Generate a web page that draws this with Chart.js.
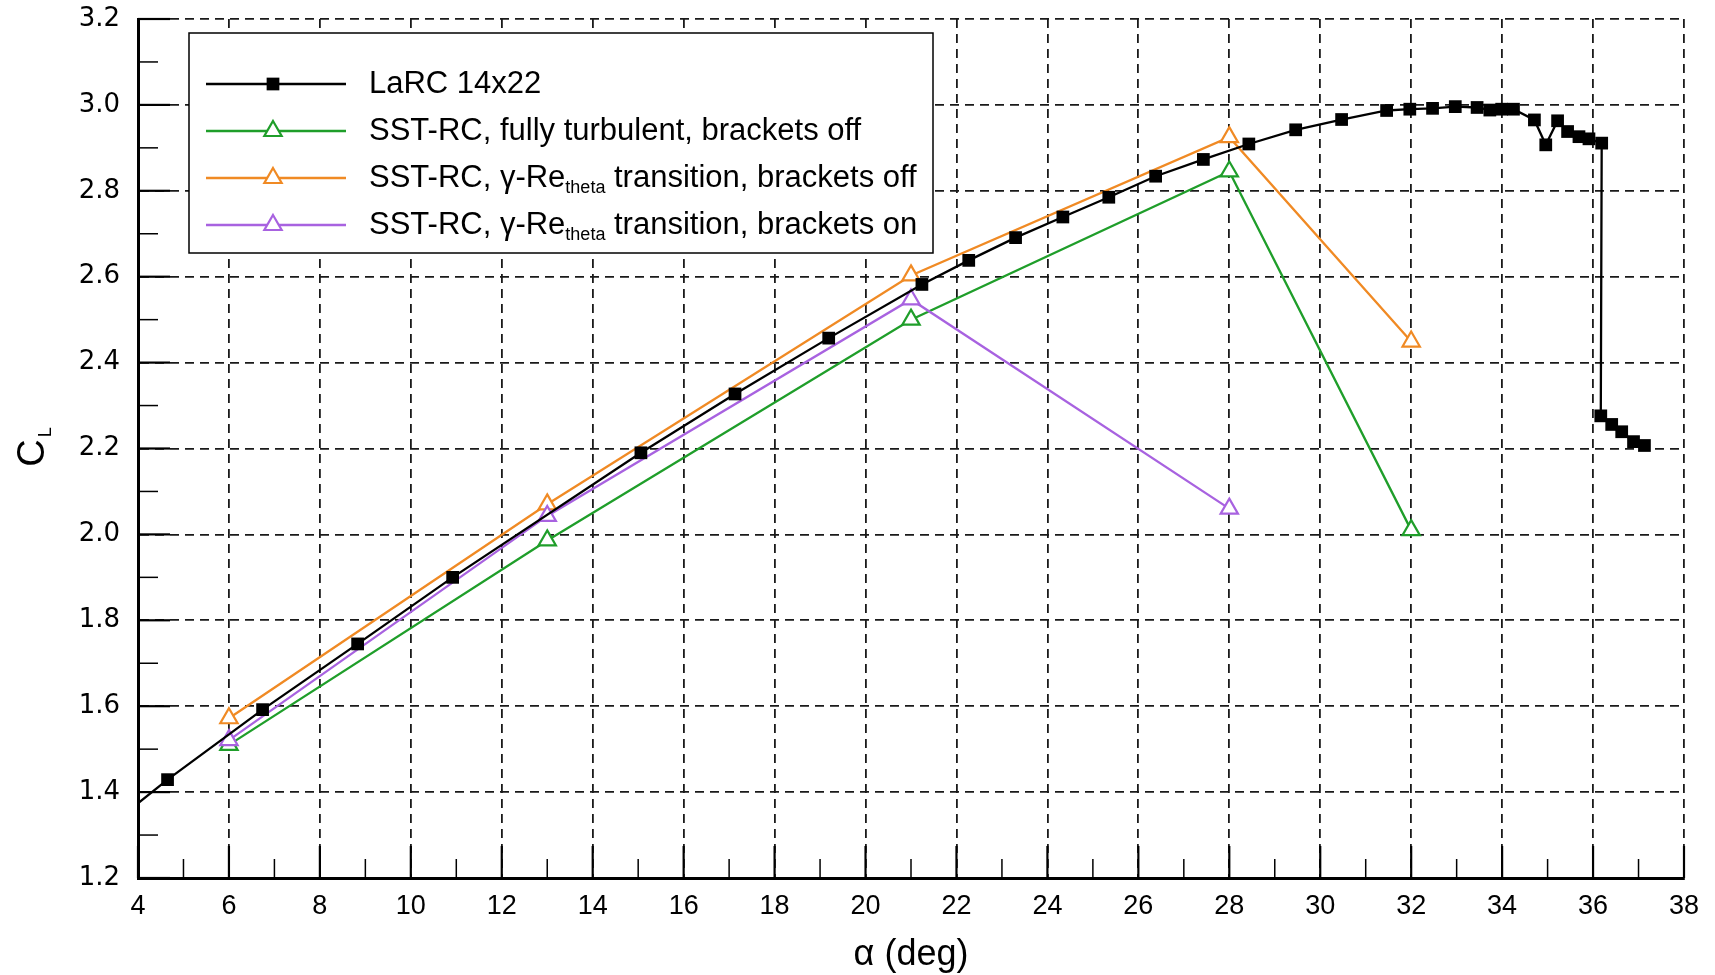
<!DOCTYPE html>
<html>
<head>
<meta charset="utf-8">
<title>CL vs alpha</title>
<script src="https://cdn.jsdelivr.net/npm/chart.js@4.4.1/dist/chart.umd.min.js"></script>
<style>
    html, body { margin: 0; padding: 0; background: #fff; }
    #wrap { width: 1715px; height: 975px; }
</style>
</head>
<body>
<div id="wrap"><canvas id="clChart" width="1715" height="975"></canvas></div>
<script>
// Data
// LaRC 14x22 experiment (first point lies left of the axis, only its line shows)
const larcAlpha = [2.6, 4.65, 6.74, 8.83, 10.92, 15.06, 17.13, 19.19, 21.24, 22.27, 23.30, 24.34, 25.35, 26.38,
    27.43, 28.43, 29.46, 30.47, 31.46, 31.97, 32.47, 32.97, 33.45, 33.73, 33.99, 34.25, 34.71, 34.96,
    35.22, 35.44, 35.69, 35.91, 36.19, 36.17, 36.41, 36.63, 36.89, 37.13];
const larcCL = [1.255, 1.429, 1.592, 1.745, 1.900, 2.190, 2.327, 2.457, 2.582, 2.638, 2.691, 2.739, 2.785, 2.834,
    2.873, 2.909, 2.942, 2.966, 2.987, 2.990, 2.992, 2.996, 2.994, 2.988, 2.990, 2.990, 2.965, 2.907,
    2.963, 2.938, 2.926, 2.921, 2.911, 2.276, 2.256, 2.239, 2.216, 2.207];

// SST-RC runs
const cfdAlpha = [6, 13, 21, 28, 32];
const fullyTurbCL = [1.510, 1.986, 2.500, 2.845, 2.010];
const transOffCL = [1.572, 2.070, 2.603, 2.925, 2.449];
const transOnAlpha = [6, 13, 21, 28];
const transOnCL = [1.521, 2.043, 2.547, 2.060];

// Labels and axis ranges
const seriesLabels = [
    'LaRC 14x22',
    'SST-RC, fully turbulent, brackets off',
    'SST-RC, γ-Re_{theta} transition, brackets off',
    'SST-RC, γ-Re_{theta} transition, brackets on'
];
const seriesColors = ['#000000', '#1f9e2a', '#f08a24', '#a862e0'];
const xRange = [4, 38];
const yRange = [1.2, 3.2];
const xStep = 2;
const yStep = 0.2;

function toPoints(xs, ys) {
    return xs.map((x, i) => ({ x: x, y: ys[i] }));
}

// Draw a marker like Chart.js does for rect / triangle
function drawMarker(ctx, style, x, y, r, color) {
    ctx.save();
    ctx.beginPath();
    if (style === 'rect') {
        const s = Math.SQRT1_2 * r;
        ctx.rect(x - s, y - s, 2 * s, 2 * s);
        ctx.fillStyle = color;
        ctx.fill();
    } else {
        ctx.moveTo(x, y - r);
        ctx.lineTo(x + 0.866 * r, y + 0.5 * r);
        ctx.lineTo(x - 0.866 * r, y + 0.5 * r);
        ctx.closePath();
        ctx.fillStyle = '#fff';
        ctx.fill();
        ctx.lineWidth = 2.2;
        ctx.strokeStyle = color;
        ctx.stroke();
    }
    ctx.restore();
}

// Text with _{sub} parts
function drawRichText(ctx, text, x, y, size) {
    const parts = text.split(/_\{(.*?)\}/);
    let cx = x;
    parts.forEach((p, i) => {
        const isSub = i % 2 === 1;
        ctx.font = (isSub ? Math.round(size * 0.58) : size) + 'px "Liberation Sans", Arial, sans-serif';
        ctx.fillText(p, cx, isSub ? y + size * 0.32 : y);
        cx += ctx.measureText(p).width;
    });
}

// Inward ticks, legend box and axis titles
const decorPlugin = {
    id: 'decor',
    afterDatasetsDraw(chart) {
        const ctx = chart.ctx;
        const xs = chart.scales.x, ys = chart.scales.y;
        const area = chart.chartArea;
        ctx.save();
        ctx.strokeStyle = '#000';
        for (let v = xRange[0]; v <= xRange[1]; v += 1) {
            const px = xs.getPixelForValue(v);
            const major = v % 2 === 0;
            ctx.lineWidth = major ? 2.2 : 1.5;
            ctx.beginPath();
            ctx.moveTo(px, area.bottom);
            ctx.lineTo(px, area.bottom - (major ? 32 : 19));
            ctx.stroke();
        }
        for (let i = 0; i <= 20; i++) {
            const v = yRange[0] + i * 0.1;
            const py = ys.getPixelForValue(v);
            const major = i % 2 === 0;
            ctx.lineWidth = major ? 2.2 : 1.5;
            ctx.beginPath();
            ctx.moveTo(area.left, py);
            ctx.lineTo(area.left + (major ? 32 : 20), py);
            ctx.stroke();
        }
        ctx.restore();
    },
    afterDraw(chart) {
        const ctx = chart.ctx;
        const styles = ['rect', 'triangle', 'triangle', 'triangle'];

        // legend box
        ctx.save();
        ctx.fillStyle = '#fff';
        ctx.fillRect(189, 33, 744, 220);
        ctx.lineWidth = 1.5;
        ctx.strokeStyle = '#000';
        ctx.strokeRect(189, 33, 744, 220);
        seriesLabels.forEach((label, i) => {
            const y = 84 + i * 47;
            ctx.lineWidth = 2.4;
            ctx.strokeStyle = seriesColors[i];
            ctx.beginPath();
            ctx.moveTo(206, y);
            ctx.lineTo(346, y);
            ctx.stroke();
            drawMarker(ctx, styles[i], 273, y, i === 0 ? 9 : 10, seriesColors[i]);
            ctx.fillStyle = '#000';
            ctx.textBaseline = 'middle';
            ctx.textAlign = 'left';
            drawRichText(ctx, label, 369, y, 31);
        });
        ctx.restore();

        // axis titles
        ctx.save();
        ctx.fillStyle = '#000';
        ctx.textBaseline = 'middle';
        ctx.textAlign = 'center';
        ctx.font = '36px "Liberation Sans", Arial, sans-serif';
        ctx.fillText('α (deg)', 911, 955);
        ctx.translate(34, 448);
        ctx.rotate(-Math.PI / 2);
        ctx.textAlign = 'left';
        ctx.font = '38px "Liberation Sans", Arial, sans-serif';
        const cw = ctx.measureText('C').width;
        ctx.fillText('C', -cw / 2 - 5, 0);
        ctx.font = '18px "Liberation Sans", Arial, sans-serif';
        ctx.fillText('L', cw / 2 - 3, 12);
        ctx.restore();
    }
};

function initClChart() {
    const ctx = document.getElementById('clChart').getContext('2d');
    new Chart(ctx, {
        type: 'line',
        data: {
            datasets: [{
                label: seriesLabels[0],
                data: toPoints(larcAlpha, larcCL),
                borderColor: seriesColors[0],
                backgroundColor: seriesColors[0],
                borderWidth: 2.3,
                pointStyle: 'rect',
                pointRadius: 9,
                pointBorderWidth: 0,
                order: 0
            }, {
                label: seriesLabels[1],
                data: toPoints(cfdAlpha, fullyTurbCL),
                borderColor: seriesColors[1],
                pointBackgroundColor: '#fff',
                borderWidth: 2.3,
                pointStyle: 'triangle',
                pointRadius: 10,
                pointBorderWidth: 2.2,
                order: 3
            }, {
                label: seriesLabels[2],
                data: toPoints(cfdAlpha, transOffCL),
                borderColor: seriesColors[2],
                pointBackgroundColor: '#fff',
                borderWidth: 2.3,
                pointStyle: 'triangle',
                pointRadius: 10,
                pointBorderWidth: 2.2,
                order: 2
            }, {
                label: seriesLabels[3],
                data: toPoints(transOnAlpha, transOnCL),
                borderColor: seriesColors[3],
                pointBackgroundColor: '#fff',
                borderWidth: 2.3,
                pointStyle: 'triangle',
                pointRadius: 10,
                pointBorderWidth: 2.2,
                order: 1
            }]
        },
        options: {
            responsive: false,
            animation: false,
            tension: 0,
            layout: { padding: { left: 0, right: 31, top: 19, bottom: 0 } },
            plugins: {
                legend: { display: false },
                tooltip: { enabled: false },
                title: { display: false }
            },
            scales: {
                x: {
                    type: 'linear',
                    min: xRange[0],
                    max: xRange[1],
                    afterFit: scale => {
                        scale.height = 97;
                        scale.paddingLeft = 0;
                        scale.paddingRight = 0;
                    },
                    ticks: {
                        stepSize: xStep,
                        color: '#000',
                        padding: 12,
                        font: { family: '"Liberation Sans", Arial, sans-serif', size: 27 },
                        maxRotation: 0,
                        autoSkip: false
                    },
                    grid: { color: '#1a1a1a', lineWidth: 1.8, drawTicks: false },
                    border: { color: '#000', width: 3, dash: [9, 6] }
                },
                y: {
                    min: yRange[0],
                    max: yRange[1],
                    afterFit: scale => {
                        scale.width = 138;
                        scale.paddingTop = 0;
                        scale.paddingBottom = 0;
                    },
                    ticks: {
                        stepSize: yStep,
                        color: '#000',
                        padding: 18,
                        font: { family: '"DejaVu Sans", sans-serif', size: 26 },
                        callback: v => Number(v).toFixed(1)
                    },
                    grid: { color: '#1a1a1a', lineWidth: 1.8, drawTicks: false },
                    border: { color: '#000', width: 3, dash: [9, 6] }
                }
            }
        },
        plugins: [decorPlugin]
    });
}

document.addEventListener('DOMContentLoaded', function() {
    initClChart();
});
</script>
</body>
</html>
